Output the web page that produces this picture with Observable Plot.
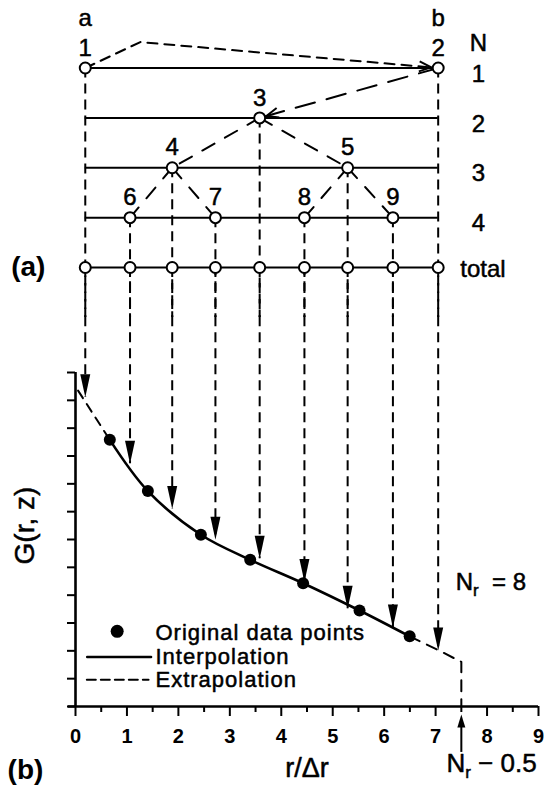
<!DOCTYPE html>
<html><head><meta charset="utf-8">
<script src="https://cdn.jsdelivr.net/npm/d3@7"></script>
<script src="https://cdn.jsdelivr.net/npm/@observablehq/plot@0.6"></script>
<style>
body{margin:0;background:#fff;}
#fig{position:relative;width:553px;height:798px;}
#fig svg{position:absolute;left:0;top:0;overflow:visible;}
</style></head><body><div id="fig"></div>
<script>
// ---------------- data ----------------
const levels   = ["1", "2", "3", "4", "total"];                 // rows of panel (a)
const endNames = ["a", "b"];
const gridX    = [0.19, 1.06, 1.88, 2.72, 3.58, 4.45, 5.29, 6.17, 7.05]; // r/Δr of grid nodes
const nodeIds   = [1, 2, 3, 4, 5, 6, 7, 8, 9];
const nodeLevel = [1, 1, 2, 3, 3, 4, 4, 4, 4];
const nodeSlot  = [0, 8, 4, 2, 6, 1, 3, 5, 7];
const edgeFrom  = [1, 2, 3, 3, 4, 4, 5, 5];
const edgeTo    = [2, 3, 4, 5, 6, 7, 8, 9];
const bowPeak   = [1.26, 0.48];                                   // bend of the 1 → 2 link
const tipG      = [11.11, 8.72, 7.10, 5.99, 5.31, 4.47, 3.51, 2.84, 2.01]; // arrow tips on curve
const dataR     = [0.667, 1.407, 2.437, 3.396, 4.424, 5.521, 6.496];
const dataG     = [9.58, 7.74, 6.17, 5.27, 4.43, 3.45, 2.52];
const extrapLeft  = [[0.05, 11.35], [0.667, 9.58]];
const extrapRight = [[6.496, 2.52], [7.07, 2.01], [7.5, 1.6], [7.5, 0]];
const legendLabels = ["Original data points", "Interpolation", "Extrapolation"];
const xTicks    = d3.range(0, 10);
const xMinor    = d3.range(0.5, 9, 1);
const yTicks    = d3.range(0, 13);
const Nr = 8;

// ---------------- layout ----------------
const W = 553, H = 798;
const FONT = "'Liberation Sans', Arial, Helvetica, sans-serif";
const X = {domain: [0, 9]};
const mL = 75, mR = 15;
const topMargins = {marginTop: 67.5, marginBottom: H - 267, marginLeft: mL, marginRight: mR};
const botMargins = {marginTop: 372, marginBottom: H - 706, marginLeft: mL, marginRight: mR};
const ink = {fill: "black", stroke: "black", strokeWidth: 0.5};   // slightly heavier text like the print

const xs = Plot.scale({x: {domain: [0, 9], range: [mL, W - mR]}});
const ys = Plot.scale({y: {domain: [1, 5], range: [67.5, 267]}});

const nodes = nodeIds.map((id, i) => ({id, level: nodeLevel[i], r: gridX[nodeSlot[i]]}));
const byId = new Map(nodes.map(n => [n.id, n]));
const totals = gridX.map(r => ({r, level: levels.length}));

// links
const bowLink = [byId.get(1), {r: bowPeak[0], level: bowPeak[1]}, byId.get(2)];
const link23 = [byId.get(2), byId.get(3)];
const treeLinks = edgeFrom.slice(2).flatMap((f, i) => [
  {...byId.get(f), k: i}, {...byId.get(edgeTo[i + 2]), k: i}
]);
function headAt(from, to) {
  const dx = xs.apply(to.r) - xs.apply(from.r);
  const dy = ys.apply(to.level) - ys.apply(from.level);
  return {r: to.r, level: to.level, angle: Math.atan2(dy, dx) * 180 / Math.PI};
}
const heads = [headAt(bowLink[1], bowLink[2]), headAt(link23[0], link23[1])];

const openHead = {draw(c) { c.moveTo(-19, -5); c.lineTo(-7, 0); c.lineTo(-19, 5); }};
const downHead = {draw(c) { c.moveTo(0, 0); c.lineTo(-5, -23); c.lineTo(5, -23); c.closePath(); }};
const upHead   = {draw(c) { c.moveTo(0, 0); c.lineTo(-4, 13); c.lineTo(4, 13); c.closePath(); }};

// ---------------- panel (a) ----------------
const panelA = Plot.plot({
  width: W, height: H, ...topMargins,
  x: {...X, axis: null}, y: {domain: [1, 5], reverse: true, axis: null},
  style: {fontFamily: FONT, background: "transparent", overflow: "visible"},
  marks: [
    Plot.ruleX([...nodes], {x: "r", y1: "level", y2: levels.length + 1, stroke: "black", strokeWidth: 2, strokeDasharray: "10,6"}),
    Plot.ruleX(totals, {x: "r", y1: levels.length, y2: levels.length + 1, stroke: "black", strokeWidth: 2, strokeDasharray: "10,6"}),
    Plot.ruleY(levels.map((l, i) => i + 1), {x1: gridX[0], x2: gridX[gridX.length - 1], stroke: "black", strokeWidth: 2}),
    Plot.line(bowLink, {x: "r", y: "level", stroke: "black", strokeWidth: 2, strokeDasharray: "10,7"}),
    Plot.line(link23, {x: "r", y: "level", stroke: "black", strokeWidth: 2, strokeDasharray: "20,12"}),
    Plot.line(treeLinks, {x: "r", y: "level", z: "k", stroke: "black", strokeWidth: 2, strokeDasharray: "14,12"}),
    Plot.dot(heads, {x: "r", y: "level", rotate: "angle", symbol: openHead, fill: "none", stroke: "black", strokeWidth: 2}),
    Plot.dot([...nodes, ...totals], {x: "r", y: "level", r: 5.5, fill: "white", stroke: "black", strokeWidth: 2}),
    Plot.text(nodes, {x: "r", y: "level", text: d => String(d.id), dy: -20, fontSize: 24, ...ink}),
    Plot.text(endNames, {x: (d, i) => i === 0 ? gridX[0] : gridX[gridX.length - 1], y: 0, text: d => d, fontSize: 24, ...ink}),
    Plot.text(["N"], {x: 7.83, y: 0.5, text: d => d, fontSize: 24, ...ink}),
    Plot.text(levels.slice(0, 4), {x: 7.83, y: (d, i) => i + 1, text: d => d, dy: 6, fontSize: 24, ...ink}),
    Plot.text(levels.slice(4), {x: 7.48, y: levels.length, text: d => d, dy: 2, fontSize: 24, textAnchor: "start", ...ink}),
    Plot.text(["(a)"], {x: -1.25, y: levels.length, text: d => d, fontSize: 28, fontWeight: "bold", textAnchor: "start", fill: "black"})
  ]
});

// ---------------- panel (b) ----------------
const pts = dataR.map((r, i) => ({r, g: dataG[i]}));
const panelB = Plot.plot({
  width: W, height: H, ...botMargins,
  x: {...X}, y: {domain: [0, 12]},
  style: {fontFamily: FONT, background: "transparent", overflow: "visible"},
  marks: [
    Plot.ruleX(gridX, {x: d => d, y1: 14, y2: (d, i) => tipG[i], stroke: "black", strokeWidth: 2, strokeDasharray: "10,6"}),
    Plot.line(extrapLeft, {x: d => d[0], y: d => d[1], stroke: "black", strokeWidth: 2, strokeDasharray: "9,7"}),
    Plot.line(extrapRight, {x: d => d[0], y: d => d[1], stroke: "black", strokeWidth: 2, strokeDasharray: "11,8"}),
    Plot.line(pts, {x: "r", y: "g", curve: "catmull-rom", stroke: "black", strokeWidth: 2.6}),
    Plot.dot(pts, {x: "r", y: "g", r: 6, fill: "black"}),
    Plot.dot(gridX, {x: d => d, y: (d, i) => tipG[i], symbol: downHead, fill: "black", stroke: "none"}),
    Plot.ruleX([0], {y1: 0, y2: 12, stroke: "black", strokeWidth: 2.6}),
    Plot.ruleY([0], {x1: -0.14, x2: 9, stroke: "black", strokeWidth: 2.6}),
    Plot.axisY({ticks: yTicks, tickSize: 8, tickFormat: () => "", label: null, strokeWidth: 2}),
    Plot.axisX({ticks: xMinor, tickSize: 6, tickFormat: () => "", label: null, strokeWidth: 2}),
    Plot.axisX({ticks: xTicks, tickSize: 10, tickPadding: 12, tickFormat: d3.format("d"), label: null,
                strokeWidth: 2, fontSize: 20, fontWeight: "bold", fill: "black"}),
    // N_r - 0.5 pointer
    Plot.ruleX([Nr - 0.5], {y1: -0.6, y2: -1.65, stroke: "black", strokeWidth: 2}),
    Plot.dot([Nr - 0.5], {x: d => d, y: -0.29, symbol: upHead, fill: "black", stroke: "none"}),
    // legend
    Plot.dot([0], {x: 0.81, y: 2.7, r: 6.5, fill: "black"}),
    Plot.line([[0.227, 1.78], [1.47, 1.78]], {x: d => d[0], y: d => d[1], stroke: "black", strokeWidth: 2.4}),
    Plot.line([[0.22, 0.96], [1.42, 0.96]], {x: d => d[0], y: d => d[1], stroke: "black", strokeWidth: 2, strokeDasharray: "9,5"}),
    Plot.text(legendLabels, {x: 1.555, y: (d, i) => [2.66, 1.78, 0.96][i], text: d => d, fontSize: 22,
                             textAnchor: "start", ...ink}),
    // labels
    Plot.text([`Nr = ${Nr}`], {x: 7.39, y: 4.46, text: d => d, fontSize: 24, textAnchor: "start", ...ink}),
    Plot.text([`Nr − 0.5`], {x: 7.21, y: -2.05, text: d => d, fontSize: 26, textAnchor: "start", ...ink}),
    Plot.text(["G(r, z)"], {x: -0.99, y: 6.5, text: d => d, fontSize: 28, rotate: -90, ...ink}),
    Plot.text(["r/Δr"], {x: 4.5, y: -2.23, text: d => d, fontSize: 27, ...ink}),
    Plot.text(["(b)"], {x: -1.32, y: -2.3, text: d => d, fontSize: 28, fontWeight: "bold", textAnchor: "start", fill: "black"})
  ]
});

// subscript r in N_r labels; wider tracking on legend texts
d3.select(panelB).selectAll("text").each(function() {
  const t = this.textContent;
  if (legendLabels.includes(t)) d3.select(this).attr("letter-spacing", "1");
  if (t.startsWith("Nr")) {
    const rest = t.slice(2);
    const sel = d3.select(this).text(null);
    sel.append("tspan").text("N");
    sel.append("tspan").attr("dy", "6").attr("font-size", "17").text("r");
    sel.append("tspan").attr("dy", "-6").text(rest.replace(" =", "  =").replace(/^ /, "\u00a0"));
  }
});

const fig = document.getElementById("fig");
fig.appendChild(panelB);
fig.appendChild(panelA);
</script></body></html>
